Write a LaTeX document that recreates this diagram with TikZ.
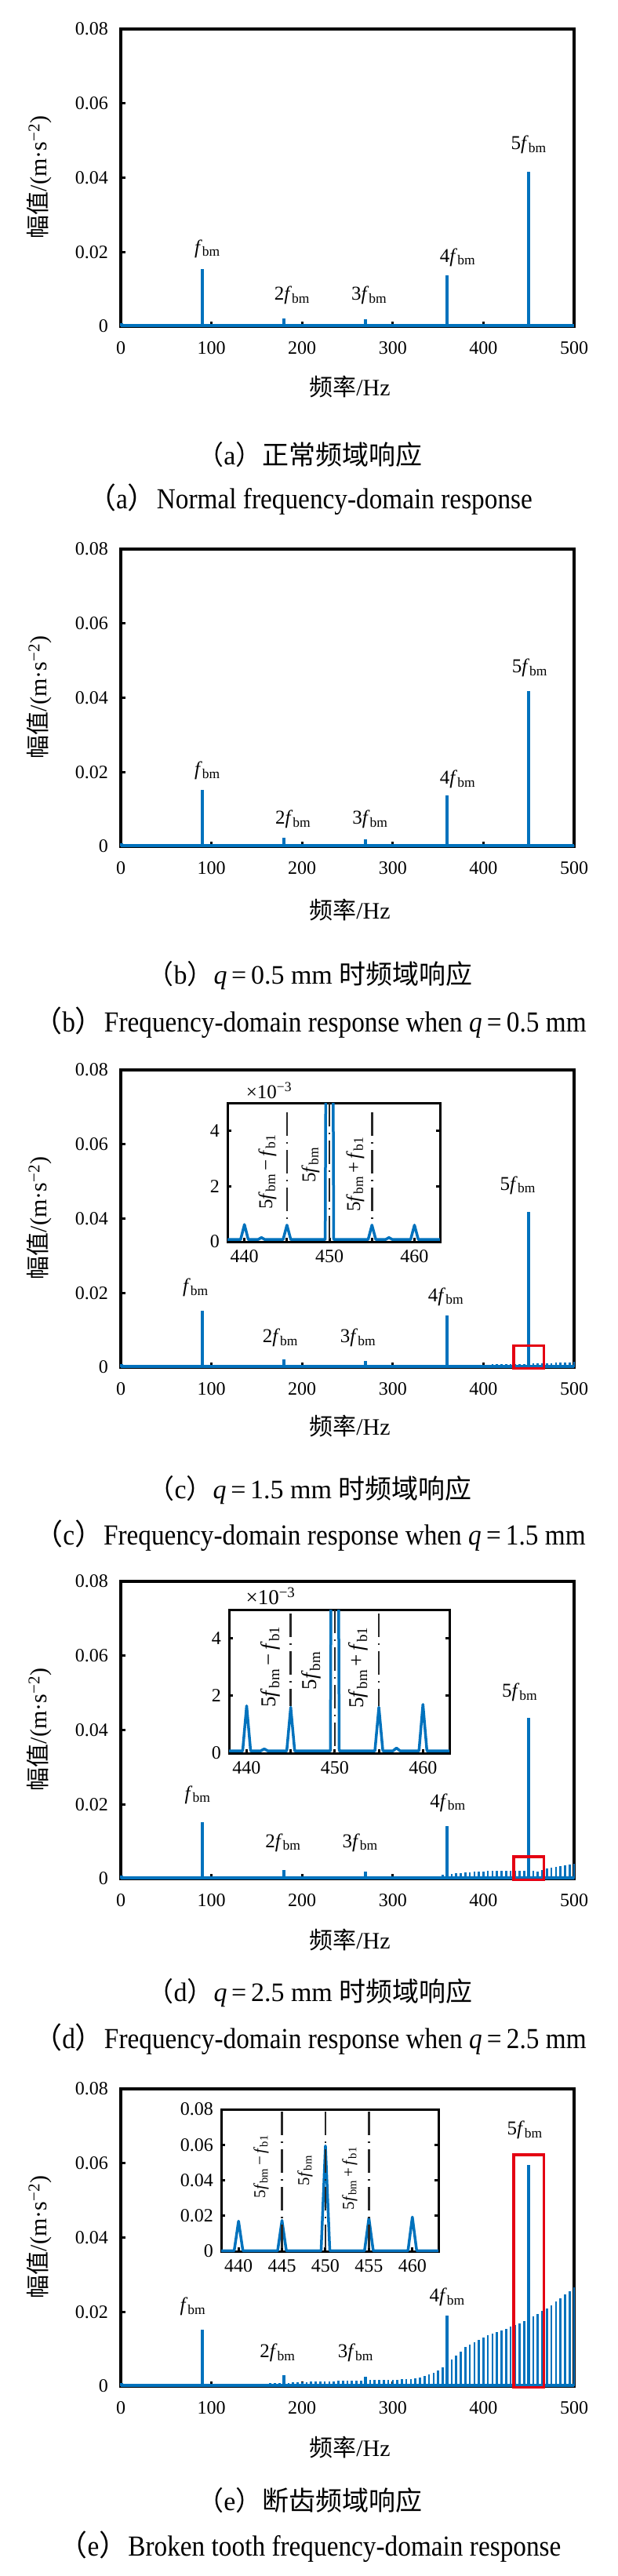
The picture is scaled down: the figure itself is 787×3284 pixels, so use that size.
\documentclass[tikz,border=0pt]{standalone}
\usepackage{fontspec}
\setmainfont{Liberation Serif}
\newfontfamily\cjk{Noto Sans CJK SC}
\newfontfamily\capserif{Liberation Serif}[FakeStretch=0.9]
\usepackage{tikz}
\usetikzlibrary{positioning}
\definecolor{specblue}{RGB}{0,114,189}
\definecolor{boxred}{RGB}{228,0,18}
\definecolor{markgray}{RGB}{40,40,40}
\newcommand\fbm{\textit{f}\textsubscript{bm}}
\newcommand\fbi{\textit{f}\textsubscript{b1}}
\newcommand\tickfont{\fontsize{24}{28}\selectfont}
\newcommand\peakfont{\fontsize{25}{30}\selectfont}
\newcommand\axisfont{\fontsize{30}{36}\selectfont}
\newcommand\capfont{\capserif\fontsize{37}{42}\selectfont}
\newcommand\cncapfont{\fontsize{34}{40}\selectfont}
\tikzset{
  mainplot/.style={x=1.156pt,y=4.7375pt},
  frame/.style={black,line width=3.5pt},
  tickmark/.style={black,line width=3pt},
  spec/.style={specblue,line width=4pt,line join=round},
  comb/.style={specblue,line width=2.6pt},
  zoomline/.style={markgray,line width=2.5pt,dash pattern=on 30pt off 8pt on 2pt off 8pt},
  redbox/.style={boxred,line width=3.5pt},
  ticklab/.style={font=\tickfont,inner sep=0pt},
  peaklab/.style={font=\peakfont,inner sep=0pt},
  zoomlab/.style={font=\fontsize{#1}{#1}\selectfont,inner sep=0pt,rotate=90},
  axislab/.style={font=\axisfont,inner sep=0pt},
  cncap/.style={font=\cncapfont,inner sep=0pt},
  encap/.style={font=\capfont,inner sep=0pt}
}
% frame and tick labels of one spectrum
\newcommand\specframe{
\draw[frame] (0,0) rectangle (500,80);
\foreach \v/\t in {0/0,20/0.02,40/0.04,60/0.06,80/0.08}
  \node[ticklab,anchor=east] at ([xshift=-16pt]0,\v) {\t};
\foreach \f in {0,100,...,500}
  \node[ticklab] at ([yshift=-28pt]\f,0) {\f};
\foreach \v in {20,40,60} \draw[tickmark] (0,\v) -- ++(6pt,0);
\foreach \f in {100,200,300,400} \draw[tickmark] (\f,0) -- ++(0,6pt);
}
% sideband comb, segments fa/aa/fb/ab
\newcommand\combseg[1]{\foreach \fa/\aa/\fb/\ab in {#1}{
  \pgfmathtruncatemacro\fn{\fa+5}
  \foreach \f in {\fa,\fn,...,\fb}{
    \pgfmathsetmacro\amp{\aa+(\ab-\aa)*(\f-\fa)/(\fb-\fa)}
    \draw[comb] (\f,0) -- (\f,\amp);
  }}}
\begin{document}
\begin{tikzpicture}[x=1pt,y=-1pt]
\fill[white] (0,0) rectangle (787,3284);
\useasboundingbox (0,0) rectangle (787,3284);

% (a)
\begin{scope}[shift={(154pt,-416pt)},mainplot]
\specframe
\draw[spec] (0,0.15) -- (500,0.15);
\draw[spec] (0.6,0) -- (0.6,0.9);
\draw[spec] (90,0) -- (90,15.4);
\draw[spec] (180,0) -- (180,2.2);
\draw[spec] (270,0) -- (270,1.8);
\draw[spec] (360,0) -- (360,13.8);
\draw[spec] (450,0) -- (450,41.5);
\node[peaklab] (a1) at (95.6,20.9) {\fbm};
\node[peaklab] (a2) at (189,8.4) {2\fbm};
\node[peaklab] (a3) at (274,8.4) {3\fbm};
\node[peaklab] (a4) at (371.6,18.6) {4\fbm};
\node[peaklab] (a5) at (450,48.9) {5\fbm};
\end{scope}
\node[axislab,rotate=90] (ya) at (50,226) {{\cjk 幅值}/(m·s\textsuperscript{−2})};
\node[axislab] (xa) at (446,493) {{\cjk 频率}/Hz};
\node[cncap] (capa) at (395,580) {{\cjk （}a{\cjk ）正常频域响应}};
\node[encap] (enca) at (395,637) {{\cjk （}a{\cjk ）}Normal frequency-domain response};

% (b)
\begin{scope}[shift={(154pt,-1079pt)},mainplot]
\specframe
\combseg{365/0.25/500/0.3}
\draw[spec] (0,0.15) -- (500,0.15);
\draw[spec] (0.6,0) -- (0.6,0.9);
\draw[spec] (90,0) -- (90,15.3);
\draw[spec] (180,0) -- (180,2.3);
\draw[spec] (270,0) -- (270,1.8);
\draw[spec] (360,0) -- (360,13.8);
\draw[spec] (450,0) -- (450,41.7);
\node[peaklab] (b1) at (95.6,20.3) {\fbm};
\node[peaklab] (b2) at (190,7.3) {2\fbm};
\node[peaklab] (b3) at (275,7.3) {3\fbm};
\node[peaklab] (b4) at (371.6,18) {4\fbm};
\node[peaklab] (b5) at (451,48) {5\fbm};
\end{scope}
\node[axislab,rotate=90] (yb) at (50,889) {{\cjk 幅值}/(m·s\textsuperscript{−2})};
\node[axislab] (xb) at (446,1160) {{\cjk 频率}/Hz};
\node[cncap] (capb) at (395,1244) {{\cjk （}b{\cjk ）}\textit{q}\,=\,0.5 mm {\cjk 时频域响应}};
\node[encap] (encb) at (395,1304) {{\cjk （}b{\cjk ）}Frequency-domain response when \textit{q}\,=\,0.5 mm};

% (c)
\begin{scope}[shift={(154pt,-1743pt)},mainplot]
\specframe
\combseg{355/0.4/400/0.7, 400/0.7/460/1.0, 460/1.0/500/1.4}
\draw[spec] (0,0.15) -- (500,0.15);
\draw[spec] (0.6,0) -- (0.6,0.9);
\draw[spec] (90,0) -- (90,15.1);
\draw[spec] (180,0) -- (180,2.1);
\draw[spec] (270,0) -- (270,1.6);
\draw[spec] (360,0) -- (360,13.9);
\draw[spec] (450,0) -- (450,41.9);
\draw[redbox] (433.5,-0.3) rectangle (466.5,5.8);
\node[peaklab] (c1) at (82.6,21.5) {\fbm};
\node[peaklab] (c2) at (176,7.9) {2\fbm};
\node[peaklab] (c3) at (261.7,7.9) {3\fbm};
\node[peaklab] (c4) at (358.6,19) {4\fbm};
\node[peaklab] (c5) at (438,49) {5\fbm};
\end{scope}
\begin{scope}[shift={(-4457.92pt,-1583pt)},x=10.84pt,y=35.4pt]
\fill[white] (438,0) rectangle (463,5);
\draw[frame,line width=3pt] (438,0) rectangle (463,5);
\foreach \v in {0,2,4} \node[ticklab,anchor=east] at ([xshift=-10pt]438,\v) {\v};
\foreach \f in {440,450,460} \node[ticklab] at ([yshift=-19pt]\f,0) {\f};
\foreach \v in {2,4} {\draw[tickmark] (438,\v) -- ++(5pt,0); \draw[tickmark] (463,\v) -- ++(-5pt,0);}
\foreach \f in {440,445,450,455,460} \draw[tickmark] (\f,0) -- ++(0,5pt);
\draw[zoomline] (445,4.66) -- (445,0.75);
\draw[zoomline] (455,4.66) -- (455,0.75);
\begin{scope}
\clip (438,0) rectangle (463,5);
\draw[spec,line width=3.5pt] (438,0.08) -- (439.55,0.08) -- (440,0.62) -- (440.45,0.08) -- (441.6,0.08) -- (442,0.15) -- (442.4,0.08) -- (444.55,0.08) -- (445,0.6) -- (445.45,0.08) -- (449.5,0.08) -- (450,41.9) -- (450.5,0.08) -- (454.55,0.08) -- (455,0.6) -- (455.45,0.08) -- (456.6,0.08) -- (457,0.15) -- (457.4,0.08) -- (459.55,0.08) -- (460,0.6) -- (460.45,0.08) -- (463,0.08);
\draw[zoomline] (450,5) -- (450,0);
\end{scope}
\end{scope}
\node[font=\fontsize{25}{30}\selectfont,inner sep=0pt] (expc) at (343,1390) {×10\textsuperscript{−3}};
\node[zoomlab=25] (c6) at (341,1494) {5\fbm\,−\,\fbi};
\node[zoomlab=25] (c7) at (396,1485) {5\fbm};
\node[zoomlab=25] (c8) at (453,1497) {5\fbm\,+\,\fbi};
\node[axislab,rotate=90] (yc) at (50,1553) {{\cjk 幅值}/(m·s\textsuperscript{−2})};
\node[axislab] (xc) at (446,1818) {{\cjk 频率}/Hz};
\node[cncap] (capc) at (395,1900) {{\cjk （}c{\cjk ）}\textit{q}\,=\,1.5 mm {\cjk 时频域响应}};
\node[encap] (encc) at (395,1958) {{\cjk （}c{\cjk ）}Frequency-domain response when \textit{q}\,=\,1.5 mm};

% (d)
\begin{scope}[shift={(154pt,-2395pt)},mainplot]
\specframe
\combseg{200/0.3/350/0.4, 355/1.0/380/1.7, 380/1.7/420/2.2, 420/2.2/440/2.2, 440/2.2/460/2.0, 460/2.0/470/2.8, 470/2.8/500/4.0}
\draw[spec] (0,0.15) -- (500,0.15);
\draw[spec] (0.6,0) -- (0.6,0.9);
\draw[spec] (90,0) -- (90,15.3);
\draw[spec] (180,0) -- (180,2.4);
\draw[spec] (270,0) -- (270,1.9);
\draw[spec] (360,0) -- (360,14.2);
\draw[spec] (450,0) -- (450,43.2);
\draw[redbox] (433.5,-0.3) rectangle (466.5,5.9);
\node[peaklab] (d1) at (84.8,22.6) {\fbm};
\node[peaklab] (d2) at (179,9.7) {2\fbm};
\node[peaklab] (d3) at (264,9.7) {3\fbm};
\node[peaklab] (d4) at (360.8,20.5) {4\fbm};
\node[peaklab] (d5) at (440,50.2) {5\fbm};
\end{scope}
\begin{scope}[shift={(-4631.12pt,-2235pt)},x=11.24pt,y=36.6pt]
\fill[white] (438,0) rectangle (463,5);
\draw[frame,line width=3pt] (438,0) rectangle (463,5);
\foreach \v in {0,2,4} \node[ticklab,anchor=east] at ([xshift=-10pt]438,\v) {\v};
\foreach \f in {440,450,460} \node[ticklab] at ([yshift=-19pt]\f,0) {\f};
\foreach \v in {2,4} {\draw[tickmark] (438,\v) -- ++(5pt,0); \draw[tickmark] (463,\v) -- ++(-5pt,0);}
\foreach \f in {440,445,450,455,460} \draw[tickmark] (\f,0) -- ++(0,5pt);
\draw[zoomline] (445,4.86) -- (445,1.65);
\draw[zoomline] (455,4.86) -- (455,1.65);
\begin{scope}
\clip (438,0) rectangle (463,5);
\draw[spec,line width=3.5pt] (438,0.08) -- (439.55,0.08) -- (440,1.65) -- (440.45,0.08) -- (441.6,0.08) -- (442,0.15) -- (442.4,0.08) -- (444.55,0.08) -- (445,1.6) -- (445.45,0.08) -- (449.5,0.08) -- (450,43.2) -- (450.5,0.08) -- (454.55,0.08) -- (455,1.6) -- (455.45,0.08) -- (456.6,0.08) -- (457,0.18) -- (457.4,0.08) -- (459.55,0.08) -- (460,1.7) -- (460.45,0.08) -- (463,0.08);
\draw[zoomline] (450,5) -- (450,0);
\end{scope}
\end{scope}
\node[font=\fontsize{27}{30}\selectfont,inner sep=0pt] (expd) at (345,2035) {×10\textsuperscript{−3}};
\node[zoomlab=27] (d6) at (345,2125) {5\fbm\,−\,\fbi};
\node[zoomlab=27] (d7) at (397,2130) {5\fbm};
\node[zoomlab=27] (d8) at (457,2126) {5\fbm\,+\,\fbi};
\node[axislab,rotate=90] (yd) at (50,2205) {{\cjk 幅值}/(m·s\textsuperscript{−2})};
\node[axislab] (xd) at (446,2473) {{\cjk 频率}/Hz};
\node[cncap] (capd) at (395,2541) {{\cjk （}d{\cjk ）}\textit{q}\,=\,2.5 mm {\cjk 时频域响应}};
\node[encap] (encd) at (395,2600) {{\cjk （}d{\cjk ）}Frequency-domain response when \textit{q}\,=\,2.5 mm};

% (e)
\begin{scope}[shift={(154pt,-3042pt)},mainplot]
\specframe
\combseg{105/0.3/150/0.6, 150/0.6/200/1.1, 200/1.1/250/1.5, 250/1.5/300/1.7, 300/1.7/320/2.0, 320/2.0/330/2.4, 330/2.4/340/3.2, 340/3.2/350/4.2, 350/4.2/355/5.1, 355/5.1/365/7.1, 365/7.1/370/8.3, 370/8.3/380/10.5, 380/10.5/400/13.2, 400/13.2/420/15.0, 420/15.0/430/16.0, 430/16.0/440/16.8, 440/16.8/460/19.5, 460/19.5/470/20.9, 470/20.9/500/26.5}
\draw[spec] (0,0.15) -- (500,0.15);
\draw[spec] (0.6,0) -- (0.6,0.9);
\draw[spec] (90,0) -- (90,15.2);
\draw[spec] (180,0) -- (180,2.9);
\draw[spec] (270,0) -- (270,2.5);
\draw[spec] (360,0) -- (360,19.0);
\draw[spec] (450,0) -- (450,59.5);
\draw[redbox] (433.5,-0.3) rectangle (466.5,62.3);
\node[peaklab] (e1) at (79.5,21.5) {\fbm};
\node[peaklab] (e2) at (173,9) {2\fbm};
\node[peaklab] (e3) at (259,9) {3\fbm};
\node[peaklab] (e4) at (360,23.9) {4\fbm};
\node[peaklab] (e5) at (445.6,69) {5\fbm};
\end{scope}
\begin{scope}[shift={(-4571.04pt,-2870pt)},x=11.08pt,y=2.2625pt]
\fill[white] (438,0) rectangle (463,80);
\draw[frame,line width=3pt] (438,0) rectangle (463,80);
\foreach \v/\t in {0/0,20/0.02,40/0.04,60/0.06,80/0.08} \node[ticklab,anchor=east] at ([xshift=-10pt]438,\v) {\t};
\foreach \f in {440,445,450,455,460} \node[ticklab] at ([yshift=-19pt]\f,0) {\f};
\foreach \v in {20,40,60} {\draw[tickmark] (438,\v) -- ++(5pt,0); \draw[tickmark] (463,\v) -- ++(-5pt,0);}
\foreach \f in {440,445,450,455,460} \draw[tickmark] (\f,0) -- ++(0,5pt);
\draw[spec,line width=3.5pt] (438,0.3) -- (439.5,0.3) -- (440,17) -- (440.5,0.3) -- (444.5,0.3) -- (445,17.4) -- (445.5,0.3) -- (449.5,0.3) -- (450,59.4) -- (450.5,0.3) -- (454.5,0.3) -- (455,18.7) -- (455.5,0.3) -- (459.5,0.3) -- (460,19.3) -- (460.5,0.3) -- (463,0.3);
\draw[zoomline] (445,78.7) -- (445,0);
\draw[zoomline] (450,78.7) -- (450,0);
\draw[zoomline] (455,78.7) -- (455,0);
\end{scope}
\node[zoomlab=21] (e6) at (333,2762) {5\fbm\,−\,\fbi};
\node[zoomlab=21] (e7) at (389,2767) {5\fbm};
\node[zoomlab=21] (e8) at (446,2777) {5\fbm\,+\,\fbi};
\node[axislab,rotate=90] (ye) at (50,2852) {{\cjk 幅值}/(m·s\textsuperscript{−2})};
\node[axislab] (xe) at (446,3120) {{\cjk 频率}/Hz};
\node[cncap] (cape) at (395,3188) {{\cjk （}e{\cjk ）断齿频域响应}};
\node[encap] (ence) at (395,3247) {{\cjk （}e{\cjk ）}Broken tooth frequency-domain response};
\end{tikzpicture}
\end{document}
